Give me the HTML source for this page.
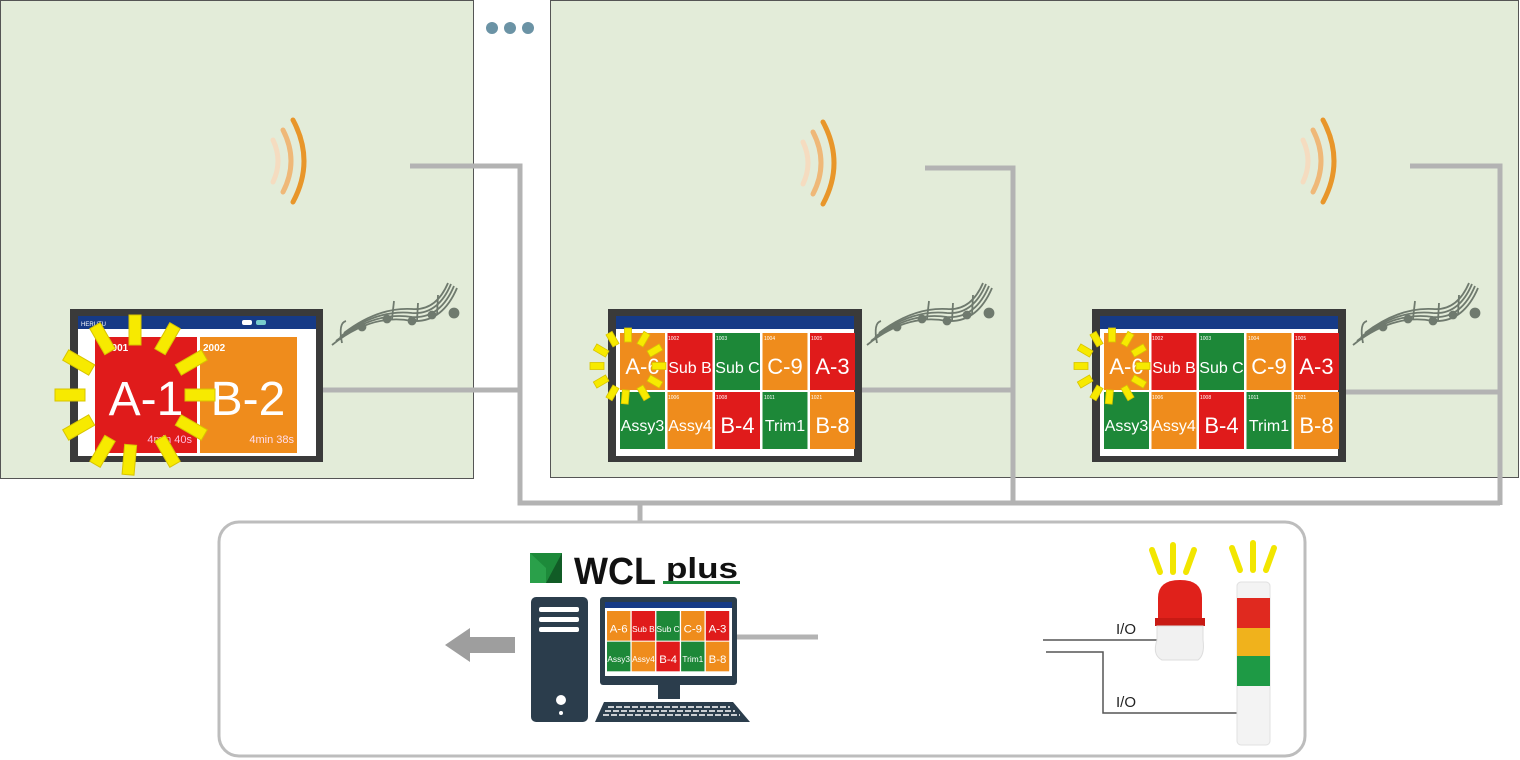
<!DOCTYPE html>
<html><head><meta charset="utf-8"><style>
html,body{margin:0;padding:0;background:#fff;}
svg{display:block;font-family:"Liberation Sans",sans-serif;}
</style></head><body>
<svg width="1520" height="760" viewBox="0 0 1520 760" xmlns="http://www.w3.org/2000/svg">
<!-- panels -->
<rect x="0.5" y="0.5" width="473" height="478" fill="#e3ecd9" stroke="#555" stroke-width="1"/>
<rect x="550.5" y="0.5" width="968" height="477" fill="#e3ecd9" stroke="#555" stroke-width="1"/>
<circle cx="492" cy="28" r="6" fill="#6b93a5"/><circle cx="510" cy="28" r="6" fill="#6b93a5"/><circle cx="528" cy="28" r="6" fill="#6b93a5"/>

<!-- gray wiring -->
<g fill="none" stroke="#b3b3b3" stroke-width="5">
<polyline points="410,166 520,166 520,503 1500,503"/>
<line x1="322" y1="390" x2="520" y2="390"/>
<polyline points="925,168 1013,168 1013,501"/>
<line x1="860" y1="390" x2="1013" y2="390"/>
<polyline points="1410,166 1500,166 1500,505"/>
<line x1="1345" y1="392" x2="1500" y2="392"/>
<line x1="640" y1="503" x2="640" y2="522"/>
</g>
<rect x="219" y="522" width="1086" height="234" rx="20" fill="#fff" stroke="#bdbdbd" stroke-width="3"/>

<!-- speakers -->
<g fill="none" stroke-linecap="round">
<g transform="translate(265,118)"><path d="M28 2 Q50 43 28 84" stroke="#e8962a" stroke-width="5"/><path d="M18 12 Q34 43 18 74" stroke="#efb878" stroke-width="5"/><path d="M8 22 Q18 43 8 64" stroke="#f5dcc0" stroke-width="5"/></g>
<g transform="translate(795,120)"><path d="M28 2 Q50 43 28 84" stroke="#e8962a" stroke-width="5"/><path d="M18 12 Q34 43 18 74" stroke="#efb878" stroke-width="5"/><path d="M8 22 Q18 43 8 64" stroke="#f5dcc0" stroke-width="5"/></g>
<g transform="translate(1295,118)"><path d="M28 2 Q50 43 28 84" stroke="#e8962a" stroke-width="5"/><path d="M18 12 Q34 43 18 74" stroke="#efb878" stroke-width="5"/><path d="M8 22 Q18 43 8 64" stroke="#f5dcc0" stroke-width="5"/></g>
</g>

<!-- music notes -->
<g fill="none" stroke="#6f7a6e" stroke-width="1.8">
<g transform="translate(332,283)"><path d="M0 62 Q40 30 80 38 Q110 40 125 5"/><path d="M4 58 Q42 28 80 34 Q108 36 122 3"/><path d="M8 54 Q44 26 80 30 Q106 32 119 1"/><path d="M12 50 Q46 24 80 26 Q104 28 116 0"/><path d="M10 60 Q6 40 14 38"/><circle cx="30" cy="44" r="3.5" fill="#6f7a6e"/><circle cx="55" cy="36" r="3.5" fill="#6f7a6e"/><circle cx="80" cy="38" r="3.5" fill="#6f7a6e"/><circle cx="100" cy="32" r="3.5" fill="#6f7a6e"/><circle cx="122" cy="30" r="4.5" fill="#6f7a6e"/><line x1="60" y1="36" x2="62" y2="18"/><line x1="85" y1="38" x2="86" y2="20"/><line x1="105" y1="32" x2="106" y2="12"/></g>
<g transform="translate(867,283)"><path d="M0 62 Q40 30 80 38 Q110 40 125 5"/><path d="M4 58 Q42 28 80 34 Q108 36 122 3"/><path d="M8 54 Q44 26 80 30 Q106 32 119 1"/><path d="M12 50 Q46 24 80 26 Q104 28 116 0"/><path d="M10 60 Q6 40 14 38"/><circle cx="30" cy="44" r="3.5" fill="#6f7a6e"/><circle cx="55" cy="36" r="3.5" fill="#6f7a6e"/><circle cx="80" cy="38" r="3.5" fill="#6f7a6e"/><circle cx="100" cy="32" r="3.5" fill="#6f7a6e"/><circle cx="122" cy="30" r="4.5" fill="#6f7a6e"/><line x1="60" y1="36" x2="62" y2="18"/><line x1="85" y1="38" x2="86" y2="20"/><line x1="105" y1="32" x2="106" y2="12"/></g>
<g transform="translate(1353,283)"><path d="M0 62 Q40 30 80 38 Q110 40 125 5"/><path d="M4 58 Q42 28 80 34 Q108 36 122 3"/><path d="M8 54 Q44 26 80 30 Q106 32 119 1"/><path d="M12 50 Q46 24 80 26 Q104 28 116 0"/><path d="M10 60 Q6 40 14 38"/><circle cx="30" cy="44" r="3.5" fill="#6f7a6e"/><circle cx="55" cy="36" r="3.5" fill="#6f7a6e"/><circle cx="80" cy="38" r="3.5" fill="#6f7a6e"/><circle cx="100" cy="32" r="3.5" fill="#6f7a6e"/><circle cx="122" cy="30" r="4.5" fill="#6f7a6e"/><line x1="60" y1="36" x2="62" y2="18"/><line x1="85" y1="38" x2="86" y2="20"/><line x1="105" y1="32" x2="106" y2="12"/></g>
</g>

<!-- left screen -->
<rect x="70" y="309" width="253" height="153" fill="#3a3a3a"/>
<rect x="78" y="316" width="238" height="140" fill="#fff"/>
<rect x="78" y="316" width="238" height="13" fill="#163a86"/>
<text x="81" y="326" font-size="6" fill="#fff">HERUTU</text>
<rect x="242" y="320" width="10" height="5" rx="2" fill="#fff"/><rect x="256" y="320" width="10" height="5" rx="2" fill="#7cc"/>
<rect x="95" y="337" width="102" height="116" fill="#e01b1b"/>
<rect x="200" y="337" width="97" height="116" fill="#ef8c1c"/>
<text x="106" y="351" font-size="10" font-weight="bold" fill="#fff">2001</text>
<text x="203" y="351" font-size="10" font-weight="bold" fill="#fff">2002</text>
<text x="146" y="415" font-size="48" fill="#fff" text-anchor="middle">A-1</text>
<text x="248" y="415" font-size="48" fill="#fff" text-anchor="middle">B-2</text>
<text x="192" y="443" font-size="11" fill="#fbd" text-anchor="end">4min 40s</text>
<text x="294" y="443" font-size="11" fill="#fde" text-anchor="end">4min 38s</text>
<g stroke="#d8c400" stroke-width="1" fill="#f7ea00">
<g transform="translate(135,395)">
<rect x="-6" y="-80" width="12" height="30" transform="rotate(0)"/><rect x="-6" y="-80" width="12" height="30" transform="rotate(30)"/><rect x="-6" y="-80" width="12" height="30" transform="rotate(60)"/><rect x="-6" y="-80" width="12" height="30" transform="rotate(90)"/><rect x="-6" y="-80" width="12" height="30" transform="rotate(120)"/><rect x="-6" y="-80" width="12" height="30" transform="rotate(150)"/><rect x="-6" y="-80" width="12" height="30" transform="rotate(185)"/><rect x="-6" y="-80" width="12" height="30" transform="rotate(210)"/><rect x="-6" y="-80" width="12" height="30" transform="rotate(240)"/><rect x="-6" y="-80" width="12" height="30" transform="rotate(270)"/><rect x="-6" y="-80" width="12" height="30" transform="rotate(300)"/><rect x="-6" y="-80" width="12" height="30" transform="rotate(330)"/>
</g></g>

<!-- middle screen -->
<rect x="608" y="309" width="254" height="153" fill="#3a3a3a"/>
<rect x="616" y="316" width="238" height="140" fill="#fff"/>
<rect x="616" y="316" width="238" height="13" fill="#163a86"/>
<g transform="translate(620,333)">
<rect x="0" y="0" width="45" height="57" fill="#ef8c1c"/><rect x="47.5" y="0" width="45" height="57" fill="#e01b1b"/><rect x="95" y="0" width="45" height="57" fill="#1d8838"/><rect x="142.5" y="0" width="45" height="57" fill="#ef8c1c"/><rect x="190" y="0" width="45" height="57" fill="#e01b1b"/>
<rect x="0" y="59" width="45" height="57" fill="#1d8838"/><rect x="47.5" y="59" width="45" height="57" fill="#ef8c1c"/><rect x="95" y="59" width="45" height="57" fill="#e01b1b"/><rect x="142.5" y="59" width="45" height="57" fill="#1d8838"/><rect x="190" y="59" width="45" height="57" fill="#ef8c1c"/>
<g fill="#fff" text-anchor="middle">
<text x="22.5" y="41" font-size="22">A-6</text><text x="70" y="40" font-size="16">Sub B</text><text x="117.5" y="40" font-size="16">Sub C</text><text x="165" y="41" font-size="22">C-9</text><text x="212.5" y="41" font-size="22">A-3</text>
<text x="22.5" y="98" font-size="16">Assy3</text><text x="70" y="98" font-size="16">Assy4</text><text x="117.5" y="100" font-size="22">B-4</text><text x="165" y="98" font-size="16">Trim1</text><text x="212.5" y="100" font-size="22">B-8</text>
</g>
<g fill="#fff" font-size="5"><text x="48" y="7">1002</text><text x="96" y="7">1003</text><text x="144" y="7">1004</text><text x="191" y="7">1005</text><text x="48" y="66">1006</text><text x="96" y="66">1008</text><text x="144" y="66">1011</text><text x="191" y="66">1021</text></g>
</g>
<g stroke="#d8c400" stroke-width="0.8" fill="#f7ea00"><g transform="translate(628,366)">
<rect x="-3.5" y="-38" width="7" height="14"/><rect x="-3.5" y="-38" width="7" height="14" transform="rotate(30)"/><rect x="-3.5" y="-38" width="7" height="14" transform="rotate(60)"/><rect x="-3.5" y="-38" width="7" height="14" transform="rotate(90)"/><rect x="-3.5" y="-38" width="7" height="14" transform="rotate(120)"/><rect x="-3.5" y="-38" width="7" height="14" transform="rotate(150)"/><rect x="-3.5" y="-38" width="7" height="14" transform="rotate(185)"/><rect x="-3.5" y="-38" width="7" height="14" transform="rotate(210)"/><rect x="-3.5" y="-38" width="7" height="14" transform="rotate(240)"/><rect x="-3.5" y="-38" width="7" height="14" transform="rotate(270)"/><rect x="-3.5" y="-38" width="7" height="14" transform="rotate(300)"/><rect x="-3.5" y="-38" width="7" height="14" transform="rotate(330)"/>
</g></g>

<!-- right screen -->
<rect x="1092" y="309" width="254" height="153" fill="#3a3a3a"/>
<rect x="1100" y="316" width="238" height="140" fill="#fff"/>
<rect x="1100" y="316" width="238" height="13" fill="#163a86"/>
<g transform="translate(1104,333)">
<rect x="0" y="0" width="45" height="57" fill="#ef8c1c"/><rect x="47.5" y="0" width="45" height="57" fill="#e01b1b"/><rect x="95" y="0" width="45" height="57" fill="#1d8838"/><rect x="142.5" y="0" width="45" height="57" fill="#ef8c1c"/><rect x="190" y="0" width="45" height="57" fill="#e01b1b"/>
<rect x="0" y="59" width="45" height="57" fill="#1d8838"/><rect x="47.5" y="59" width="45" height="57" fill="#ef8c1c"/><rect x="95" y="59" width="45" height="57" fill="#e01b1b"/><rect x="142.5" y="59" width="45" height="57" fill="#1d8838"/><rect x="190" y="59" width="45" height="57" fill="#ef8c1c"/>
<g fill="#fff" text-anchor="middle">
<text x="22.5" y="41" font-size="22">A-6</text><text x="70" y="40" font-size="16">Sub B</text><text x="117.5" y="40" font-size="16">Sub C</text><text x="165" y="41" font-size="22">C-9</text><text x="212.5" y="41" font-size="22">A-3</text>
<text x="22.5" y="98" font-size="16">Assy3</text><text x="70" y="98" font-size="16">Assy4</text><text x="117.5" y="100" font-size="22">B-4</text><text x="165" y="98" font-size="16">Trim1</text><text x="212.5" y="100" font-size="22">B-8</text>
</g>
<g fill="#fff" font-size="5"><text x="48" y="7">1002</text><text x="96" y="7">1003</text><text x="144" y="7">1004</text><text x="191" y="7">1005</text><text x="48" y="66">1006</text><text x="96" y="66">1008</text><text x="144" y="66">1011</text><text x="191" y="66">1021</text></g>
</g>
<g stroke="#d8c400" stroke-width="0.8" fill="#f7ea00"><g transform="translate(1112,366)">
<rect x="-3.5" y="-38" width="7" height="14"/><rect x="-3.5" y="-38" width="7" height="14" transform="rotate(30)"/><rect x="-3.5" y="-38" width="7" height="14" transform="rotate(60)"/><rect x="-3.5" y="-38" width="7" height="14" transform="rotate(90)"/><rect x="-3.5" y="-38" width="7" height="14" transform="rotate(120)"/><rect x="-3.5" y="-38" width="7" height="14" transform="rotate(150)"/><rect x="-3.5" y="-38" width="7" height="14" transform="rotate(185)"/><rect x="-3.5" y="-38" width="7" height="14" transform="rotate(210)"/><rect x="-3.5" y="-38" width="7" height="14" transform="rotate(240)"/><rect x="-3.5" y="-38" width="7" height="14" transform="rotate(270)"/><rect x="-3.5" y="-38" width="7" height="14" transform="rotate(300)"/><rect x="-3.5" y="-38" width="7" height="14" transform="rotate(330)"/>
</g></g>

<!-- WCL plus logo -->
<polygon points="530,553 562,553 562,583 530,583" fill="#1d8a3a"/>
<polygon points="546,583 562,553 562,583" fill="#115c26"/>
<polygon points="530,553 546,568 546,583 530,583" fill="#2aa04a"/>
<text x="574" y="584" font-size="38" font-weight="bold" fill="#111" textLength="82" lengthAdjust="spacingAndGlyphs">WCL</text>
<text x="666" y="578" font-size="29" font-weight="bold" fill="#111" textLength="72" lengthAdjust="spacingAndGlyphs">plus</text>
<rect x="663" y="581" width="77" height="3" fill="#1d8a3a"/>

<!-- computer -->
<polygon points="515,637 470,637 470,628 445,645 470,662 470,653 515,653" fill="#9e9e9e"/>
<line x1="737" y1="637" x2="818" y2="637" stroke="#b3b3b3" stroke-width="5"/>
<rect x="531" y="597" width="57" height="125" rx="5" fill="#2b3d4c"/>
<rect x="539" y="607" width="40" height="5" rx="2" fill="#fff"/><rect x="539" y="617" width="40" height="5" rx="2" fill="#fff"/><rect x="539" y="627" width="40" height="5" rx="2" fill="#fff"/>
<circle cx="561" cy="700" r="5" fill="#fff"/><circle cx="561" cy="713" r="2" fill="#fff"/>
<rect x="600" y="597" width="137" height="88" rx="3" fill="#2b3d4c"/>
<rect x="605" y="602" width="127" height="74" fill="#fff"/>
<rect x="605" y="602" width="127" height="6" fill="#163a86"/>
<rect x="658" y="685" width="22" height="14" fill="#2b3d4c"/>
<polygon points="604,702 733,702 750,722 595,722" fill="#2b3d4c"/>
<g stroke="#fff" stroke-width="1.5" stroke-dasharray="6 2"><line x1="608" y1="707" x2="730" y2="707"/><line x1="605" y1="711" x2="735" y2="711"/><line x1="603" y1="715" x2="740" y2="715"/></g>
<g transform="translate(607,611) scale(0.52)">
<rect x="0" y="0" width="45" height="57" fill="#ef8c1c"/><rect x="47.5" y="0" width="45" height="57" fill="#e01b1b"/><rect x="95" y="0" width="45" height="57" fill="#1d8838"/><rect x="142.5" y="0" width="45" height="57" fill="#ef8c1c"/><rect x="190" y="0" width="45" height="57" fill="#e01b1b"/>
<rect x="0" y="59" width="45" height="57" fill="#1d8838"/><rect x="47.5" y="59" width="45" height="57" fill="#ef8c1c"/><rect x="95" y="59" width="45" height="57" fill="#e01b1b"/><rect x="142.5" y="59" width="45" height="57" fill="#1d8838"/><rect x="190" y="59" width="45" height="57" fill="#ef8c1c"/>
<g fill="#fff" text-anchor="middle">
<text x="22.5" y="41" font-size="22">A-6</text><text x="70" y="40" font-size="16">Sub B</text><text x="117.5" y="40" font-size="16">Sub C</text><text x="165" y="41" font-size="22">C-9</text><text x="212.5" y="41" font-size="22">A-3</text>
<text x="22.5" y="98" font-size="16">Assy3</text><text x="70" y="98" font-size="16">Assy4</text><text x="117.5" y="100" font-size="22">B-4</text><text x="165" y="98" font-size="16">Trim1</text><text x="212.5" y="100" font-size="22">B-8</text>
</g></g>

<!-- I/O -->
<g fill="none" stroke="#555" stroke-width="1.5">
<line x1="1043" y1="640" x2="1157" y2="640"/>
<polyline points="1046,652 1103,652 1103,713 1238,713"/>
</g>
<text x="1116" y="634" font-size="15" fill="#222">I/O</text>
<text x="1116" y="707" font-size="15" fill="#222">I/O</text>

<!-- beacon -->
<g stroke="#f2e600" stroke-width="6" stroke-linecap="round" fill="none">
<line x1="1152" y1="550" x2="1160" y2="572"/><line x1="1173" y1="545" x2="1173" y2="572"/><line x1="1194" y1="550" x2="1186" y2="572"/>
<line x1="1232" y1="548" x2="1240" y2="570"/><line x1="1253" y1="543" x2="1253" y2="570"/><line x1="1274" y1="548" x2="1266" y2="570"/>
</g>
<path d="M1158 620 L1158 598 Q1158 580 1180 580 Q1202 580 1202 598 L1202 620 Z" fill="#e0211b"/>
<rect x="1155" y="618" width="50" height="8" fill="#c81a14"/>
<path d="M1157 626 L1203 626 L1203 640 Q1205 655 1198 660 L1162 660 Q1152 655 1157 640 Z" fill="#f1f1f1" stroke="#ddd"/>
<!-- tower -->
<rect x="1237" y="582" width="33" height="163" rx="4" fill="#f3f3f3" stroke="#e0e0e0"/>
<rect x="1237" y="598" width="33" height="30" fill="#e0291f"/>
<rect x="1237" y="628" width="33" height="28" fill="#f0b21c"/>
<rect x="1237" y="656" width="33" height="30" fill="#1e9a45"/>
</svg>
</body></html>
